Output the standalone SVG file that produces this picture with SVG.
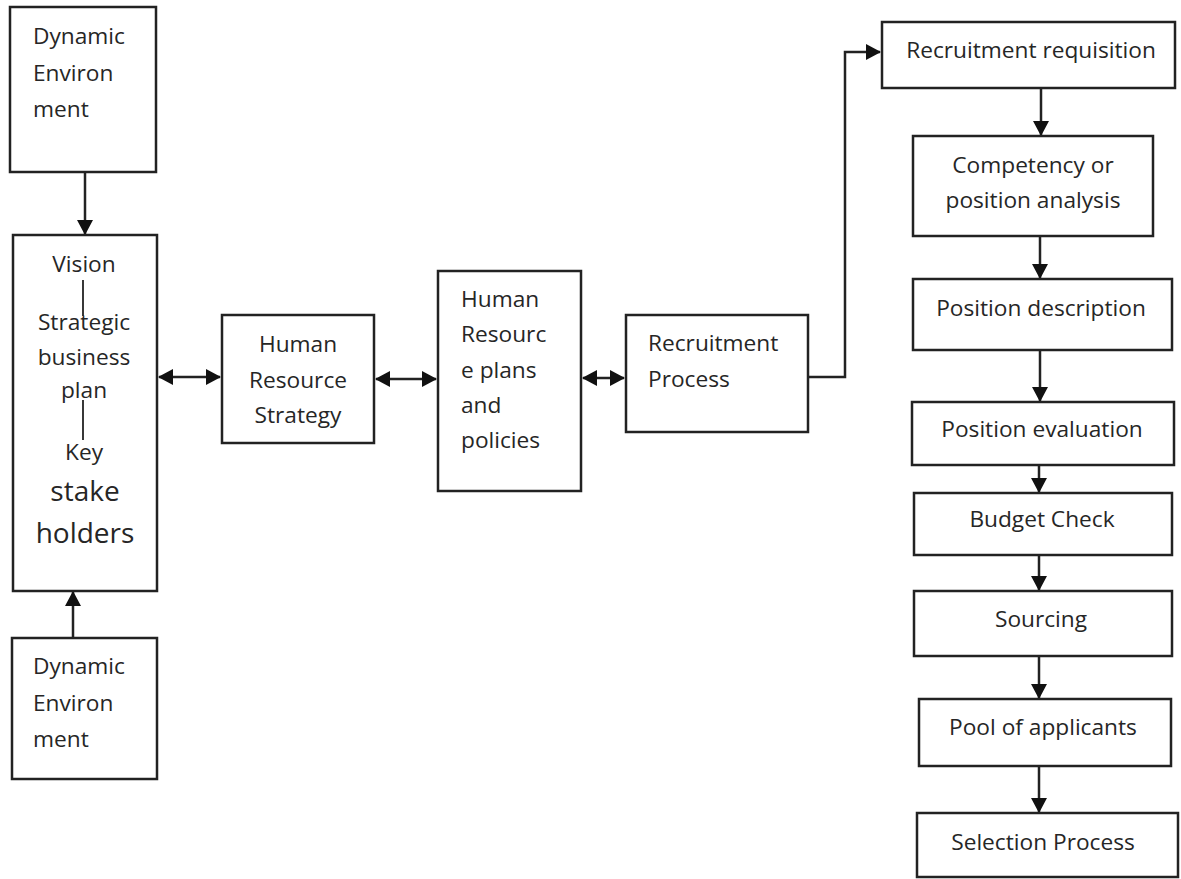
<svg xmlns="http://www.w3.org/2000/svg" width="1181" height="879" viewBox="0 0 1181 879">
<style>
.box{fill:#fff;stroke:#222;stroke-width:2.5}
.t{font-family:"Open Sans","Noto Sans",sans-serif;font-size:22.7px;fill:#262626}
.c{text-anchor:middle}
.big{font-size:28px}
.ln{stroke:#222;stroke-width:2.5;fill:none}
.thin{stroke:#222;stroke-width:1.8;fill:none}
</style>
<defs>
<marker id="ah" viewBox="0 0 15 16" refX="14" refY="8" markerWidth="15" markerHeight="16" markerUnits="userSpaceOnUse" orient="auto-start-reverse">
<path d="M0,0 L15,8 L0,16 z" fill="#111"/>
</marker>
</defs>
<rect width="1181" height="879" fill="#fff"/>
<g id="connectors">
<line class="ln" x1="85" y1="172" x2="85" y2="234" marker-end="url(#ah)"/>
<line class="ln" x1="73" y1="638" x2="73" y2="592" marker-end="url(#ah)"/>
<line class="ln" x1="159" y1="377" x2="220" y2="377" marker-start="url(#ah)" marker-end="url(#ah)"/>
<line class="ln" x1="376" y1="379" x2="436" y2="379" marker-start="url(#ah)" marker-end="url(#ah)"/>
<line class="ln" x1="583" y1="378" x2="624" y2="378" marker-start="url(#ah)" marker-end="url(#ah)"/>
<polyline class="ln" points="808,377 845,377 845,52 880,52" marker-end="url(#ah)"/>
<line class="ln" x1="1041" y1="88" x2="1041" y2="135" marker-end="url(#ah)"/>
<line class="ln" x1="1040" y1="236" x2="1040" y2="278" marker-end="url(#ah)"/>
<line class="ln" x1="1040" y1="350" x2="1040" y2="401" marker-end="url(#ah)"/>
<line class="ln" x1="1039" y1="465" x2="1039" y2="492" marker-end="url(#ah)"/>
<line class="ln" x1="1039" y1="555" x2="1039" y2="590" marker-end="url(#ah)"/>
<line class="ln" x1="1039" y1="656" x2="1039" y2="698" marker-end="url(#ah)"/>
<line class="ln" x1="1039" y1="766" x2="1039" y2="812" marker-end="url(#ah)"/>
</g>
<g id="dyn-top">
<rect class="box" x="10" y="7" width="146" height="165"/>
<text class="t" x="33" y="44">Dynamic</text>
<text class="t" x="33" y="81">Environ</text>
<text class="t" x="33" y="117">ment</text>
</g>
<g id="vision">
<rect class="box" x="13" y="235" width="144" height="356"/>
<text class="t c" x="84" y="272">Vision</text>
<line class="thin" x1="83" y1="280" x2="83" y2="316"/>
<text class="t c" x="84" y="330">Strategic</text>
<text class="t c" x="84" y="365">business</text>
<text class="t c" x="84" y="398">plan</text>
<line class="thin" x1="83" y1="400" x2="83" y2="440"/>
<text class="t c" x="84" y="460">Key</text>
<text class="t c big" x="85" y="501">stake</text>
<text class="t c big" x="85" y="543">holders</text>
</g>
<g id="dyn-bottom">
<rect class="box" x="12" y="638" width="145" height="141"/>
<text class="t" x="33" y="674">Dynamic</text>
<text class="t" x="33" y="711">Environ</text>
<text class="t" x="33" y="747">ment</text>
</g>
<g id="hr-strategy">
<rect class="box" x="222" y="315" width="152" height="128"/>
<text class="t c" x="298" y="352">Human</text>
<text class="t c" x="298" y="388">Resource</text>
<text class="t c" x="298" y="423">Strategy</text>
</g>
<g id="hr-plans">
<rect class="box" x="438" y="271" width="143" height="220"/>
<text class="t" x="461" y="307">Human</text>
<text class="t" x="461" y="342">Resourc</text>
<text class="t" x="461" y="378">e plans</text>
<text class="t" x="461" y="413">and</text>
<text class="t" x="461" y="448">policies</text>
</g>
<g id="recruitment-process">
<rect class="box" x="626" y="315" width="182" height="117"/>
<text class="t" x="648" y="351">Recruitment</text>
<text class="t" x="648" y="387">Process</text>
</g>
<g id="requisition">
<rect class="box" x="882" y="22" width="293" height="66"/>
<text class="t c" x="1031" y="58">Recruitment requisition</text>
</g>
<g id="competency">
<rect class="box" x="913" y="136" width="240" height="100"/>
<text class="t c" x="1033" y="173">Competency or</text>
<text class="t c" x="1033" y="208">position analysis</text>
</g>
<g id="position-description">
<rect class="box" x="913" y="279" width="259" height="71"/>
<text class="t c" x="1041" y="316">Position description</text>
</g>
<g id="position-evaluation">
<rect class="box" x="912" y="402" width="262" height="63"/>
<text class="t c" x="1042" y="437">Position evaluation</text>
</g>
<g id="budget-check">
<rect class="box" x="914" y="493" width="258" height="62"/>
<text class="t c" x="1042" y="527">Budget Check</text>
</g>
<g id="sourcing">
<rect class="box" x="914" y="591" width="258" height="65"/>
<text class="t c" x="1041" y="627">Sourcing</text>
</g>
<g id="pool">
<rect class="box" x="919" y="699" width="252" height="67"/>
<text class="t c" x="1043" y="735">Pool of applicants</text>
</g>
<g id="selection">
<rect class="box" x="917" y="813" width="261" height="64"/>
<text class="t c" x="1043" y="850">Selection Process</text>
</g>
</svg>
